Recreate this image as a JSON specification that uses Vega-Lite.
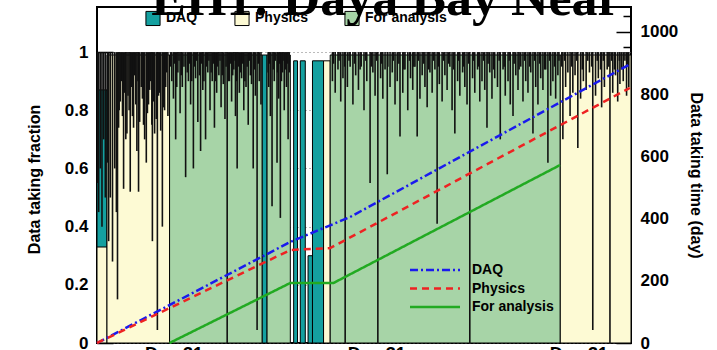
{
  "$schema": "https://vega.github.io/schema/vega-lite/v6.json",
  "width": 534,
  "height": 336,
  "autosize": {"type": "none"},
  "padding": {"left": 97, "top": 7, "right": 86, "bottom": 7},
  "background": "white",
  "config": {"view": {"stroke": "black", "strokeWidth": 2}},
  "title": {"text": "EH1: Daya Bay Near", "font": "Liberation Serif", "fontSize": 52, "fontWeight": "bold", "color": "black", "anchor": "middle", "frame": "group", "dx": 22, "offset": -60, "baseline": "alphabetic"},
  "datasets": {
    "fills": [
      {"s": 0, "e": 18, "k": "DAQ", "v": 0.87},
      {"s": 298, "e": 307, "k": "DAQ", "v": 0.99},
      {"s": 355, "e": 362, "k": "DAQ", "v": 0.97},
      {"s": 367, "e": 376, "k": "DAQ", "v": 0.97},
      {"s": 381, "e": 389, "k": "DAQ", "v": 0.3},
      {"s": 389, "e": 409, "k": "DAQ", "v": 0.97},
      {"s": 0, "e": 18, "k": "Physics", "v": 0.33},
      {"s": 18, "e": 131, "k": "Physics", "v": 0.99},
      {"s": 409, "e": 421, "k": "Physics", "v": 0.97},
      {"s": 836, "e": 964, "k": "Physics", "v": 0.99},
      {"s": 131, "e": 298, "k": "For analysis", "v": 0.99},
      {"s": 307, "e": 349, "k": "For analysis", "v": 0.99},
      {"s": 421, "e": 836, "k": "For analysis", "v": 0.99}
    ],
    "dips": [
      {"d": 1, "v": 0.55}, {"d": 3, "v": 0.45}, {"d": 6, "v": 0.6}, {"d": 9, "v": 0.4}, {"d": 12, "v": 0.7}, {"d": 15, "v": 0.5}, {"d": 19, "v": 0.62}, {"d": 21, "v": 0.35}, {"d": 24, "v": 0.5}, {"d": 28, "v": 0.28}, {"d": 32, "v": 0.6}, {"d": 35, "v": 0.45},
      {"d": 37, "v": 0.15}, {"d": 48, "v": 0.53}, {"d": 60, "v": 0.52}, {"d": 75, "v": 0.52}, {"d": 89, "v": 0.62}, {"d": 100, "v": 0.35}, {"d": 109, "v": 0.045}, {"d": 118, "v": 0.4},
      {"d": 142, "v": 0.7}, {"d": 160, "v": 0.57}, {"d": 174, "v": 0.6}, {"d": 187, "v": 0.66}, {"d": 196, "v": 0.7}, {"d": 235, "v": 0}, {"d": 253, "v": 0.6}, {"d": 282, "v": 0.6}, {"d": 289, "v": 0.045}, {"d": 316, "v": 0.47}, {"d": 325, "v": 0.62}, {"d": 331, "v": 0.43}, {"d": 345, "v": 0.7},
      {"d": 448, "v": 0}, {"d": 493, "v": 0.55}, {"d": 507, "v": 0}, {"d": 524, "v": 0.58}, {"d": 547, "v": 0.71}, {"d": 578, "v": 0.71}, {"d": 614, "v": 0.41}, {"d": 646, "v": 0.72}, {"d": 673, "v": 0}, {"d": 704, "v": 0.74}, {"d": 728, "v": 0.7}, {"d": 751, "v": 0.78}, {"d": 787, "v": 0.72}, {"d": 814, "v": 0.62},
      {"d": 841, "v": 0.7}, {"d": 854, "v": 0.78}, {"d": 868, "v": 0.67}, {"d": 895, "v": 0.045}, {"d": 911, "v": 0.81}, {"d": 926, "v": 0}, {"d": 944, "v": 0.89}, {"d": 956, "v": 0.85},
      {"d": 40, "v": 0.8}, {"d": 44, "v": 0.9}, {"d": 52, "v": 0.7}, {"d": 56, "v": 0.85}, {"d": 64, "v": 0.78}, {"d": 68, "v": 0.92}, {"d": 72, "v": 0.66}, {"d": 80, "v": 0.88}, {"d": 84, "v": 0.75}, {"d": 93, "v": 0.82}, {"d": 97, "v": 0.9}, {"d": 104, "v": 0.72}, {"d": 113, "v": 0.86}, {"d": 122, "v": 0.8}, {"d": 126, "v": 0.93},
      {"d": 39, "v": 0.74}, {"d": 42, "v": 0.83}, {"d": 46, "v": 0.78}, {"d": 50, "v": 0.86}, {"d": 54, "v": 0.72}, {"d": 58, "v": 0.8}, {"d": 62, "v": 0.88}, {"d": 66, "v": 0.74}, {"d": 70, "v": 0.82}, {"d": 74, "v": 0.9}, {"d": 77, "v": 0.76}, {"d": 82, "v": 0.84}, {"d": 86, "v": 0.7}, {"d": 91, "v": 0.79}, {"d": 95, "v": 0.87}, {"d": 99, "v": 0.75}, {"d": 102, "v": 0.83}, {"d": 107, "v": 0.77}, {"d": 111, "v": 0.85}, {"d": 115, "v": 0.73}, {"d": 120, "v": 0.81}, {"d": 124, "v": 0.88}, {"d": 128, "v": 0.78},
      {"d": 135, "v": 0.9}, {"d": 138, "v": 0.84}, {"d": 146, "v": 0.93}, {"d": 150, "v": 0.79}, {"d": 154, "v": 0.88}, {"d": 165, "v": 0.9}, {"d": 169, "v": 0.82}, {"d": 178, "v": 0.91}, {"d": 182, "v": 0.76}, {"d": 191, "v": 0.87}, {"d": 200, "v": 0.93}, {"d": 204, "v": 0.8}, {"d": 208, "v": 0.9}, {"d": 212, "v": 0.74}, {"d": 216, "v": 0.86}, {"d": 220, "v": 0.92}, {"d": 224, "v": 0.81}, {"d": 228, "v": 0.89}, {"d": 231, "v": 0.77}, {"d": 239, "v": 0.9}, {"d": 243, "v": 0.83}, {"d": 247, "v": 0.94}, {"d": 250, "v": 0.78}, {"d": 257, "v": 0.86}, {"d": 261, "v": 0.91}, {"d": 265, "v": 0.8}, {"d": 269, "v": 0.88}, {"d": 273, "v": 0.75}, {"d": 277, "v": 0.92}, {"d": 286, "v": 0.85}, {"d": 293, "v": 0.9}, {"d": 296, "v": 0.82}, {"d": 310, "v": 0.88}, {"d": 313, "v": 0.78}, {"d": 320, "v": 0.9}, {"d": 328, "v": 0.84}, {"d": 335, "v": 0.93}, {"d": 338, "v": 0.8}, {"d": 342, "v": 0.88},
      {"d": 133, "v": 0.95}, {"d": 140, "v": 0.96}, {"d": 144, "v": 0.88}, {"d": 148, "v": 0.97}, {"d": 152, "v": 0.92}, {"d": 157, "v": 0.95}, {"d": 163, "v": 0.93}, {"d": 167, "v": 0.96}, {"d": 171, "v": 0.9}, {"d": 176, "v": 0.95}, {"d": 180, "v": 0.97}, {"d": 185, "v": 0.92}, {"d": 189, "v": 0.96}, {"d": 193, "v": 0.9}, {"d": 198, "v": 0.95}, {"d": 202, "v": 0.97}, {"d": 206, "v": 0.93}, {"d": 210, "v": 0.96}, {"d": 214, "v": 0.9}, {"d": 218, "v": 0.95}, {"d": 222, "v": 0.97}, {"d": 226, "v": 0.92}, {"d": 233, "v": 0.95}, {"d": 237, "v": 0.9}, {"d": 241, "v": 0.96}, {"d": 245, "v": 0.92}, {"d": 249, "v": 0.97}, {"d": 252, "v": 0.9}, {"d": 255, "v": 0.95}, {"d": 259, "v": 0.93}, {"d": 263, "v": 0.96}, {"d": 267, "v": 0.9}, {"d": 271, "v": 0.95}, {"d": 275, "v": 0.97}, {"d": 279, "v": 0.89}, {"d": 284, "v": 0.94}, {"d": 291, "v": 0.96}, {"d": 309, "v": 0.93}, {"d": 311, "v": 0.96}, {"d": 318, "v": 0.94}, {"d": 322, "v": 0.97}, {"d": 326, "v": 0.93}, {"d": 330, "v": 0.96}, {"d": 333, "v": 0.9}, {"d": 336, "v": 0.97}, {"d": 340, "v": 0.94}, {"d": 344, "v": 0.96}, {"d": 347, "v": 0.93},
      {"d": 425, "v": 0.9}, {"d": 430, "v": 0.86}, {"d": 435, "v": 0.94}, {"d": 440, "v": 0.83}, {"d": 444, "v": 0.91}, {"d": 452, "v": 0.88}, {"d": 457, "v": 0.95}, {"d": 462, "v": 0.82}, {"d": 467, "v": 0.92}, {"d": 472, "v": 0.87}, {"d": 477, "v": 0.95}, {"d": 482, "v": 0.8}, {"d": 487, "v": 0.9}, {"d": 498, "v": 0.93}, {"d": 502, "v": 0.85}, {"d": 512, "v": 0.91}, {"d": 516, "v": 0.84}, {"d": 520, "v": 0.94}, {"d": 529, "v": 0.88}, {"d": 533, "v": 0.93}, {"d": 538, "v": 0.82}, {"d": 542, "v": 0.9}, {"d": 552, "v": 0.86}, {"d": 556, "v": 0.94}, {"d": 561, "v": 0.8}, {"d": 566, "v": 0.91}, {"d": 570, "v": 0.87}, {"d": 574, "v": 0.95}, {"d": 583, "v": 0.84}, {"d": 587, "v": 0.92}, {"d": 592, "v": 0.88}, {"d": 596, "v": 0.81}, {"d": 601, "v": 0.93}, {"d": 605, "v": 0.86}, {"d": 610, "v": 0.94}, {"d": 618, "v": 0.89}, {"d": 623, "v": 0.83}, {"d": 628, "v": 0.92}, {"d": 632, "v": 0.87}, {"d": 637, "v": 0.95}, {"d": 641, "v": 0.8}, {"d": 651, "v": 0.9}, {"d": 655, "v": 0.85}, {"d": 660, "v": 0.93}, {"d": 664, "v": 0.88}, {"d": 668, "v": 0.82}, {"d": 678, "v": 0.91}, {"d": 682, "v": 0.86}, {"d": 687, "v": 0.94}, {"d": 691, "v": 0.83}, {"d": 695, "v": 0.9}, {"d": 700, "v": 0.87}, {"d": 709, "v": 0.93}, {"d": 713, "v": 0.84}, {"d": 718, "v": 0.91}, {"d": 723, "v": 0.88}, {"d": 733, "v": 0.94}, {"d": 737, "v": 0.85}, {"d": 742, "v": 0.9}, {"d": 746, "v": 0.82}, {"d": 756, "v": 0.92}, {"d": 760, "v": 0.87}, {"d": 765, "v": 0.95}, {"d": 769, "v": 0.83}, {"d": 774, "v": 0.9}, {"d": 778, "v": 0.86}, {"d": 783, "v": 0.93}, {"d": 792, "v": 0.88}, {"d": 796, "v": 0.82}, {"d": 801, "v": 0.91}, {"d": 805, "v": 0.87}, {"d": 810, "v": 0.94}, {"d": 819, "v": 0.85}, {"d": 823, "v": 0.9}, {"d": 828, "v": 0.84}, {"d": 832, "v": 0.92},
      {"d": 427, "v": 0.96}, {"d": 437, "v": 0.97}, {"d": 447, "v": 0.95}, {"d": 455, "v": 0.97}, {"d": 465, "v": 0.96}, {"d": 475, "v": 0.94}, {"d": 485, "v": 0.97}, {"d": 495, "v": 0.95}, {"d": 505, "v": 0.97}, {"d": 514, "v": 0.96}, {"d": 525, "v": 0.95}, {"d": 535, "v": 0.97}, {"d": 545, "v": 0.96}, {"d": 554, "v": 0.94}, {"d": 564, "v": 0.97}, {"d": 572, "v": 0.95}, {"d": 580, "v": 0.97}, {"d": 590, "v": 0.96}, {"d": 599, "v": 0.94}, {"d": 608, "v": 0.97}, {"d": 616, "v": 0.95}, {"d": 626, "v": 0.97}, {"d": 635, "v": 0.96}, {"d": 644, "v": 0.94}, {"d": 653, "v": 0.97}, {"d": 662, "v": 0.95}, {"d": 671, "v": 0.96}, {"d": 680, "v": 0.97}, {"d": 689, "v": 0.95}, {"d": 698, "v": 0.97}, {"d": 706, "v": 0.96}, {"d": 716, "v": 0.94}, {"d": 726, "v": 0.97}, {"d": 735, "v": 0.95}, {"d": 744, "v": 0.97}, {"d": 753, "v": 0.96}, {"d": 762, "v": 0.94}, {"d": 772, "v": 0.97}, {"d": 781, "v": 0.95}, {"d": 790, "v": 0.97}, {"d": 799, "v": 0.96}, {"d": 808, "v": 0.94}, {"d": 817, "v": 0.97}, {"d": 826, "v": 0.95}, {"d": 834, "v": 0.97},
      {"d": 846, "v": 0.88}, {"d": 850, "v": 0.93}, {"d": 859, "v": 0.86}, {"d": 863, "v": 0.92}, {"d": 873, "v": 0.84}, {"d": 878, "v": 0.9}, {"d": 883, "v": 0.87}, {"d": 889, "v": 0.93}, {"d": 900, "v": 0.85}, {"d": 905, "v": 0.91}, {"d": 916, "v": 0.88}, {"d": 921, "v": 0.94}, {"d": 931, "v": 0.86}, {"d": 936, "v": 0.92}, {"d": 940, "v": 0.83}, {"d": 950, "v": 0.9}, {"d": 960, "v": 0.88},
      {"d": 839, "v": 0.95}, {"d": 844, "v": 0.97}, {"d": 857, "v": 0.95}, {"d": 866, "v": 0.97}, {"d": 876, "v": 0.94}, {"d": 886, "v": 0.97}, {"d": 893, "v": 0.95}, {"d": 903, "v": 0.97}, {"d": 909, "v": 0.94}, {"d": 914, "v": 0.97}, {"d": 924, "v": 0.95}, {"d": 929, "v": 0.97}, {"d": 934, "v": 0.94}, {"d": 943, "v": 0.97}, {"d": 947, "v": 0.94}, {"d": 953, "v": 0.97}, {"d": 958, "v": 0.95}
    ],
    "cum": [
      {"d": 0, "series": "DAQ", "c": 0}, {"d": 349, "series": "DAQ", "c": 325}, {"d": 457, "series": "DAQ", "c": 405}, {"d": 962, "series": "DAQ", "c": 896},
      {"d": 0, "series": "Physics", "c": 0}, {"d": 349, "series": "Physics", "c": 299}, {"d": 421, "series": "Physics", "c": 305}, {"d": 962, "series": "Physics", "c": 820},
      {"d": 131, "series": "For analysis", "c": 0}, {"d": 349, "series": "For analysis", "c": 193}, {"d": 427, "series": "For analysis", "c": 193}, {"d": 836, "series": "For analysis", "c": 572}
    ]
  },
  "layer": [
    {
      "layer": [
        {
          "data": {"name": "fills"},
          "mark": {"type": "bar", "stroke": "black", "strokeWidth": 1, "opacity": 1},
          "encoding": {
            "x": {"field": "s", "type": "quantitative", "scale": {"domain": [0, 964], "nice": false, "zero": false}, "title": null,
              "axis": {"orient": "bottom", "values": [46, 138, 229, 320, 412, 504, 595, 687, 778, 869, 960], "labelExpr": "(datum.value == 138 || datum.value == 504 || datum.value == 869) ? 'Dec 31' : ''", "tickSize": -7, "tickColor": "black", "tickWidth": 1.5, "domain": false, "grid": false, "labelFont": "Liberation Sans", "labelFontSize": 18, "labelFontWeight": "bold", "labelColor": "black", "labelPadding": 9, "labelFlush": false, "labelOverlap": false}},
            "x2": {"field": "e"},
            "y": {"field": "v", "type": "quantitative", "stack": null, "scale": {"domain": [0, 1.155], "nice": false}, "title": "Data taking fraction",
              "axis": {"orient": "left", "values": [0, 0.05, 0.1, 0.15, 0.2, 0.25, 0.3, 0.35, 0.4, 0.45, 0.5, 0.55, 0.6, 0.65, 0.7, 0.75, 0.8, 0.85, 0.9, 0.95, 1, 1.05, 1.1, 1.15],
                "labelExpr": "(round(datum.value*100) % 20 == 0) ? format(datum.value, '.1~f') : ''",
                "tickSize": {"condition": {"test": "round(datum.value*100) % 20 == 0", "value": -16}, "value": -9},
                "tickColor": "black", "tickWidth": 1.5, "domain": false,
                "grid": true, "gridDash": [1, 3], "gridColor": "#777", "gridWidth": 1,
                "gridOpacity": {"condition": {"test": "round(datum.value*100) % 20 == 0", "value": 1}, "value": 0},
                "labelFont": "Liberation Sans", "labelFontSize": 17, "labelFontWeight": "bold", "labelColor": "black", "labelPadding": 25, "labelOverlap": false, "labelFlush": false,
                "titleFont": "Liberation Sans", "titleFontSize": 16, "titleFontWeight": "bold", "titleColor": "black", "titleX": -63, "titleY": 172, "titleAngle": -90, "titleBaseline": "middle", "titleAlign": "center"}},
            "y2": {"datum": 0},
            "fill": {"field": "k", "type": "nominal", "sort": ["DAQ", "Physics", "For analysis"], "scale": {"range": ["#14a0a0", "#fdfad4", "#a7d4a7"]},
              "legend": {"orient": "none", "legendX": 48, "legendY": 3, "direction": "horizontal", "title": null, "symbolType": "square", "symbolSize": 200, "symbolStrokeColor": "black", "symbolStrokeWidth": 1, "symbolOpacity": 1, "labelFont": "Liberation Sans", "labelFontSize": 14, "labelFontWeight": "bold", "labelColor": "black", "labelOffset": 5, "columnPadding": 34, "padding": 0}}
          }
        },
        {
          "data": {"name": "dips"},
          "mark": {"type": "rule", "color": "#111", "strokeWidth": 1.6},
          "encoding": {
            "x": {"field": "d", "type": "quantitative", "title": null},
            "y": {"field": "v", "type": "quantitative"},
            "y2": {"datum": 1}
          }
        }
      ]
    },
    {
      "data": {"name": "cum"},
      "mark": {"type": "line", "strokeWidth": 2.5},
      "encoding": {
        "x": {"field": "d", "type": "quantitative", "title": null},
        "y": {"field": "c", "type": "quantitative", "scale": {"domain": [0, 1080], "nice": false}, "title": "Data taking time (day)",
          "axis": {"orient": "right", "values": [0, 50, 100, 150, 200, 250, 300, 350, 400, 450, 500, 550, 600, 650, 700, 750, 800, 850, 900, 950, 1000, 1050],
            "labelExpr": "(datum.value % 200 == 0) ? format(datum.value, 'd') : ''",
            "tickSize": {"condition": {"test": "datum.value % 200 == 0", "value": -15}, "value": -8},
            "tickColor": "black", "tickWidth": 1.5, "domain": false, "grid": false,
            "labelFont": "Liberation Sans", "labelFontSize": 17, "labelFontWeight": "bold", "labelColor": "black", "labelPadding": 24, "labelOverlap": false, "labelFlush": false,
            "titleFont": "Liberation Sans", "titleFontSize": 16, "titleFontWeight": "bold", "titleColor": "black", "titlePadding": 10}},
        "stroke": {"field": "series", "type": "nominal", "scale": {"domain": ["DAQ", "Physics", "For analysis"], "range": ["#1a1aee", "#ee2222", "#22aa22"]},
          "legend": {"orient": "none", "legendX": 331, "legendY": 256, "direction": "vertical", "title": null, "symbolType": "M-5,0H5", "symbolSize": 100, "symbolStrokeWidth": 2.5, "labelFont": "Liberation Sans", "labelFontSize": 14, "labelFontWeight": "bold", "labelColor": "black", "labelOffset": 30, "rowPadding": 4.5, "padding": 0}},
        "strokeDash": {"field": "series", "type": "nominal", "scale": {"domain": ["DAQ", "Physics", "For analysis"], "range": [[8, 3, 2, 3], [7, 5], [1, 0]]},
          "legend": {"orient": "none", "legendX": 331, "legendY": 256, "direction": "vertical", "title": null, "symbolType": "M-5,0H5", "symbolSize": 100, "symbolStrokeWidth": 2.5, "labelFont": "Liberation Sans", "labelFontSize": 14, "labelFontWeight": "bold", "labelColor": "black", "labelOffset": 30, "rowPadding": 4.5, "padding": 0}}
      }
    }
  ],
  "resolve": {"scale": {"y": "independent"}}
}
